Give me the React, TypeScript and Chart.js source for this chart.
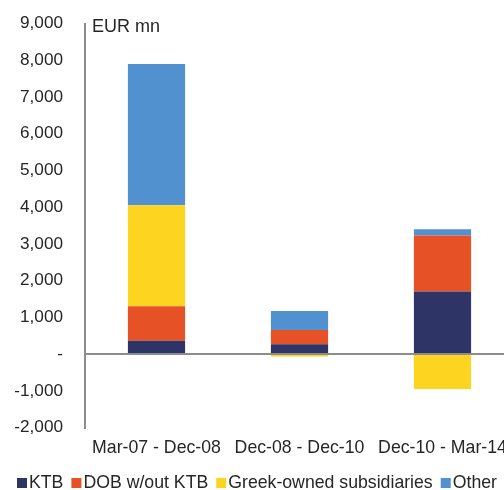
import React, { useEffect, useRef } from "react";
import { Chart, registerables } from "chart.js";

Chart.register(...registerables);

const categories = ["Mar-07 - Dec-08", "Dec-08 - Dec-10", "Dec-10 - Mar-14"];
const seriesNames = ["KTB", "DOB w/out KTB", "Greek-owned subsidiaries", "Other"];
const ktb = [360, 265, 1700];
const dob = [944, 390, 1530];
const greek = [2745, -70, -950];
const other = [3850, 515, 165];
const colors = ["#2E3466", "#E65225", "#FDD520", "#5291D0"];
const unitLabel = "EUR mn";
const yMin = -2000;
const yMax = 9000;
const yStep = 1000;

const FONT = "'Liberation Sans', Arial, Helvetica, sans-serif";
const TEXT = "#262626";
const AXIS = "#8C8C8C";

const extrasPlugin = {
  id: "extras",
  afterDraw(chart: any) {
    const ctx = chart.ctx;
    const area = chart.chartArea;
    const y = chart.scales.y;
    ctx.save();
    // unit label
    ctx.fillStyle = TEXT;
    ctx.font = `18px ${FONT}`;
    ctx.textAlign = "left";
    ctx.textBaseline = "middle";
    ctx.fillText(unitLabel, area.left + 7, y.getPixelForValue(yMax) + 4);
    // legend
    ctx.font = `17.7px ${FONT}`;
    let x = 17;
    const cy = 483;
    chart.data.datasets.forEach((ds: any) => {
      ctx.fillStyle = ds.backgroundColor;
      ctx.fillRect(x, cy - 5, 10, 10);
      ctx.fillStyle = TEXT;
      ctx.fillText(ds.label, x + 12, cy);
      x += 12 + ctx.measureText(ds.label).width + 8;
    });
    ctx.restore();
  },
};

export default function App() {
  const ref = useRef<HTMLCanvasElement | null>(null);
  useEffect(() => {
    if (!ref.current) return;
    const values = [ktb, dob, greek, other];
    const chart = new Chart(ref.current, {
      type: "bar",
      data: {
        labels: categories,
        datasets: seriesNames.map((name, i) => ({
          label: name,
          data: values[i],
          backgroundColor: colors[i],
          borderWidth: 0,
          categoryPercentage: 1,
          barPercentage: 0.4,
        })),
      },
      options: {
        responsive: false,
        animation: false,
        devicePixelRatio: 1,
        layout: { padding: { top: 23.5, right: 2, bottom: 22.5, left: 0 } },
        plugins: {
          legend: { display: false },
          tooltip: { enabled: false },
        },
        scales: {
          x: {
            stacked: true,
            grid: { display: false, drawTicks: false },
            border: { display: false },
            ticks: {
              color: TEXT,
              font: { family: FONT, size: 17.7 },
              padding: 10,
              maxRotation: 0,
              autoSkip: false,
            },
            afterFit: (scale: any) => {
              scale.height = 40;
              scale.paddingLeft = 0;
              scale.paddingRight = 0;
            },
          },
          y: {
            stacked: true,
            min: yMin,
            max: yMax,
            grid: {
              drawTicks: false,
              color: (c: any) => (c.tick && c.tick.value === 0 ? AXIS : "rgba(0,0,0,0)"),
              lineWidth: 2,
            },
            border: { display: true, color: AXIS, width: 2 },
            ticks: {
              stepSize: yStep,
              color: TEXT,
              font: { family: FONT, size: 17.2 },
              padding: 22,
              callback: (v: any) => (Number(v) === 0 ? "-" : Number(v).toLocaleString("en-US")),
            },
            afterFit: (scale: any) => {
              scale.width = 85;
              scale.paddingTop = 0;
              scale.paddingBottom = 0;
            },
          },
        },
      },
      plugins: [extrasPlugin],
    });
    return () => chart.destroy();
  }, []);
  return (
    <div
      style={{
        position: "fixed",
        left: 0,
        top: 0,
        width: 504,
        height: 490,
        overflow: "hidden",
        background: "#fff",
      }}
    >
      <canvas ref={ref} width={516} height={490} style={{ display: "block" }} />
    </div>
  );
}
